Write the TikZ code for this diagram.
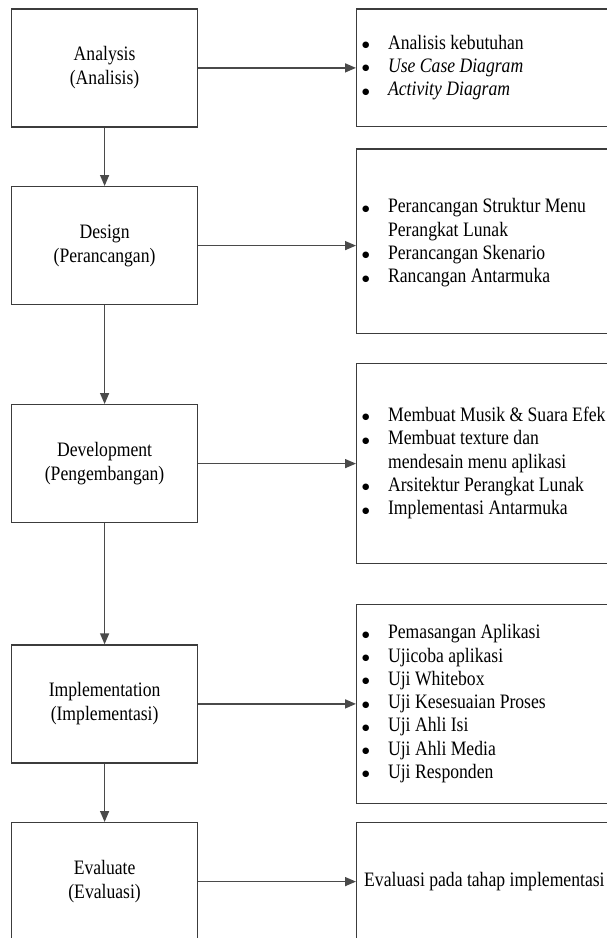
\documentclass[tikz,border=0pt]{standalone}
\usepackage{fontspec}
\setmainfont{Liberation Serif}[FakeStretch=0.86]
\newfontfamily\bulletfont{DejaVu Sans}
\usetikzlibrary{arrows.meta}
\definecolor{boxgray}{HTML}{3C3C3C}
\definecolor{arrowgray}{HTML}{4A4A4A}
\newcommand\bul{\raisebox{1.6pt}{\bulletfont\fontsize{8.5}{8.5}\selectfont ●}}
\begin{document}
\begin{tikzpicture}[x=1pt,y=-1pt,
  stage/.style={draw=boxgray, line width=1.2pt, minimum width=186pt, minimum height=118pt,
    inner sep=0pt, anchor=north west, align=center, font=\fontsize{20.5}{24}\selectfont},
  outbox/.style={draw=boxgray, line width=1.2pt, minimum width=290pt, anchor=north west, inner sep=0pt},
  itemtext/.style={anchor=west, inner sep=0pt, align=left, font=\fontsize{20.5}{23.3}\selectfont},
  flow/.style={draw=arrowgray, line width=1.5pt, -{Triangle[length=11pt,width=9pt]}}]
\clip (0,0) rectangle (607,938);
\fill[white] (0,0) rectangle (607,938);
% left stages
\node[stage] (s1) at (11,8.3) {Analysis\\(Analisis)};
\node[stage] (s2) at (11,186) {Design\\(Perancangan)};
\node[stage] (s3) at (11,404) {Development\\(Pengembangan)};
\node[stage] (s4) at (11,644.3) {Implementation\\(Implementasi)};
\node[stage] (s5) at (11,822) {Evaluate\\(Evaluasi)};
% right boxes
\node[outbox, minimum height=117.7pt] (o1) at (356,8.3) {};
\node[outbox, minimum height=184.7pt] (o2) at (356,148.3) {};
\node[outbox, minimum height=199.7pt] (o3) at (356,363) {};
\node[outbox, minimum height=198.7pt] (o4) at (356,604) {};
\node[outbox, minimum height=118pt] (o5) at (356,822) {};
% texts
\node[itemtext] (t1) at ([xshift=6pt]o1.west) {\begin{tabular}{@{}l@{\hspace{18.5pt}}l@{}}
\bul & Analisis kebutuhan\\
\bul & \textit{Use Case Diagram}\\
\bul & \textit{Activity Diagram}
\end{tabular}};
\node[itemtext] (t2) at ([xshift=6pt,yshift=-2pt]o2.west) {\begin{tabular}{@{}l@{\hspace{18.5pt}}l@{}}
\bul & Perancangan Struktur Menu\\
 & Perangkat Lunak\\
\bul & Perancangan Skenario\\
\bul & Rancangan Antarmuka
\end{tabular}};
\node[itemtext] (t3) at ([xshift=6pt]o3.west) {\begin{tabular}{@{}l@{\hspace{18.5pt}}l@{}}
\bul & Membuat Musik \& Suara Efek\\
\bul & Membuat texture dan\\
 & mendesain menu aplikasi\\
\bul & Arsitektur Perangkat Lunak\\
\bul & Implementasi Antarmuka
\end{tabular}};
\node[itemtext] (t4) at ([xshift=6pt]o4.west) {\begin{tabular}{@{}l@{\hspace{18.5pt}}l@{}}
\bul & Pemasangan Aplikasi\\
\bul & Ujicoba aplikasi\\
\bul & Uji Whitebox\\
\bul & Uji Kesesuaian Proses\\
\bul & Uji Ahli Isi\\
\bul & Uji Ahli Media\\
\bul & Uji Responden
\end{tabular}};
\node[itemtext] (t5) at ([xshift=8pt]o5.west) {Evaluasi pada tahap implementasi};
% vertical flow
\draw[flow] (s1.south) -- (s2.north);
\draw[flow] (s2.south) -- (s3.north);
\draw[flow] (s3.south) -- (s4.north);
\draw[flow] (s4.south) -- (s5.north);
% horizontal flow
\draw[flow] (s1.east) -- (s1.east -| o1.west);
\draw[flow] (s2.east) -- (s2.east -| o2.west);
\draw[flow] (s3.east) -- (s3.east -| o3.west);
\draw[flow] (s4.east) -- (s4.east -| o4.west);
\draw[flow] (s5.east) -- (s5.east -| o5.west);
\end{tikzpicture}
\end{document}
